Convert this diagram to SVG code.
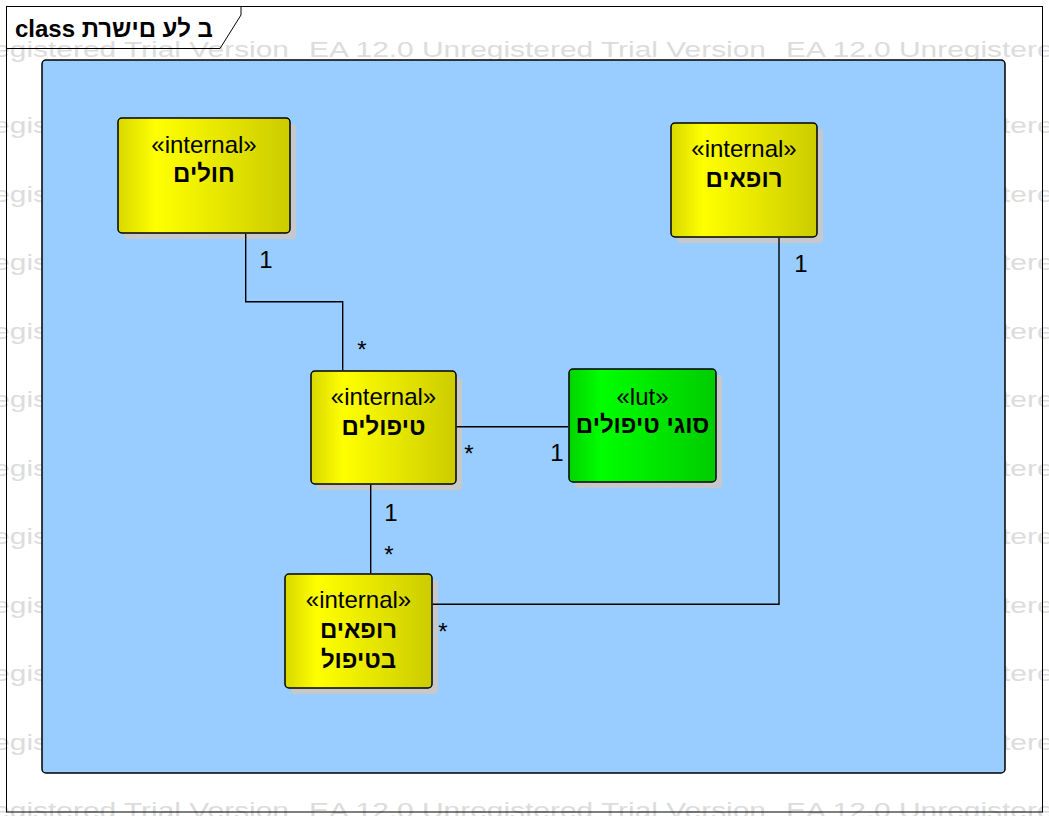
<svg xmlns="http://www.w3.org/2000/svg" xmlns:xlink="http://www.w3.org/1999/xlink" width="1049" height="816" viewBox="0 0 1049 816">
<style>
text{font-family:"Liberation Sans",Arial,"DejaVu Sans",sans-serif;fill:#000}
.wm{font-size:21.5px;fill:#dcdcdc}
.st{font-size:24px;text-anchor:middle}
.nm{font-size:24px;font-weight:bold;text-anchor:middle}
.lb{font-size:24px;text-anchor:middle}
.box{stroke:#000;stroke-width:1.5}
.shadow{fill:#c6c8cc}
.conn{fill:none;stroke:#000;stroke-width:1.4}
</style>
<defs>
<linearGradient id="gy" x1="0" y1="0" x2="1" y2="0">
<stop offset="0" stop-color="#d8d800"/>
<stop offset="0.22" stop-color="#ffff00"/>
<stop offset="1" stop-color="#cccc00"/>
</linearGradient>
<linearGradient id="gg" x1="0" y1="0" x2="1" y2="0">
<stop offset="0" stop-color="#00d400"/>
<stop offset="0.22" stop-color="#00ff00"/>
<stop offset="1" stop-color="#00cc00"/>
</linearGradient>
<text id="wm" class="wm" textLength="457" lengthAdjust="spacingAndGlyphs">EA 12.0 Unregistered Trial Version</text>
</defs>
<rect x="0" y="0" width="1049" height="816" fill="#fff"/>
<g id="watermark">
<use xlink:href="#wm" x="-168" y="57"/><use xlink:href="#wm" x="309" y="57"/><use xlink:href="#wm" x="786" y="57"/>
<use xlink:href="#wm" x="-168" y="133"/><use xlink:href="#wm" x="309" y="133"/><use xlink:href="#wm" x="786" y="133"/>
<use xlink:href="#wm" x="-168" y="201.5"/><use xlink:href="#wm" x="309" y="201.5"/><use xlink:href="#wm" x="786" y="201.5"/>
<use xlink:href="#wm" x="-168" y="270"/><use xlink:href="#wm" x="309" y="270"/><use xlink:href="#wm" x="786" y="270"/>
<use xlink:href="#wm" x="-168" y="338.5"/><use xlink:href="#wm" x="309" y="338.5"/><use xlink:href="#wm" x="786" y="338.5"/>
<use xlink:href="#wm" x="-168" y="407"/><use xlink:href="#wm" x="309" y="407"/><use xlink:href="#wm" x="786" y="407"/>
<use xlink:href="#wm" x="-168" y="475.5"/><use xlink:href="#wm" x="309" y="475.5"/><use xlink:href="#wm" x="786" y="475.5"/>
<use xlink:href="#wm" x="-168" y="544"/><use xlink:href="#wm" x="309" y="544"/><use xlink:href="#wm" x="786" y="544"/>
<use xlink:href="#wm" x="-168" y="612.5"/><use xlink:href="#wm" x="309" y="612.5"/><use xlink:href="#wm" x="786" y="612.5"/>
<use xlink:href="#wm" x="-168" y="681"/><use xlink:href="#wm" x="309" y="681"/><use xlink:href="#wm" x="786" y="681"/>
<use xlink:href="#wm" x="-168" y="749.5"/><use xlink:href="#wm" x="309" y="749.5"/><use xlink:href="#wm" x="786" y="749.5"/>
<use xlink:href="#wm" x="-168" y="818"/><use xlink:href="#wm" x="309" y="818"/><use xlink:href="#wm" x="786" y="818"/>
</g>
<g id="frame">
<rect x="6.5" y="6.5" width="1036" height="805.5" fill="none" stroke="#000" stroke-width="1"/>
<path d="M6.5 48.5 H220 L241 15 V6.5" fill="none" stroke="#000" stroke-width="1"/>
<text x="15" y="37" style="font-size:24px;font-weight:bold">class ב לע םישרת</text>
</g>
<g id="package">
<rect x="42" y="60" width="963" height="713" rx="4" fill="#99ccff" stroke="#000" stroke-width="1.5"/>
</g>
<g id="node-holim">
<rect class="shadow" x="124" y="124" width="172" height="115" rx="4"/>
<rect class="box" x="118" y="118" width="172" height="115" rx="4" fill="url(#gy)"/>
<text class="st" x="204" y="153">«internal»</text>
<text class="nm" x="204" y="182">חולים</text>
</g>
<g id="node-rofim">
<rect class="shadow" x="677" y="129" width="146" height="114" rx="4"/>
<rect class="box" x="671" y="123" width="146" height="114" rx="4" fill="url(#gy)"/>
<text class="st" x="744" y="157">«internal»</text>
<text class="nm" x="744" y="187">רופאים</text>
</g>
<g id="node-tipulim">
<rect class="shadow" x="317" y="377" width="145" height="113" rx="4"/>
<rect class="box" x="311" y="371" width="145" height="113" rx="4" fill="url(#gy)"/>
<text class="st" x="383.5" y="405">«internal»</text>
<text class="nm" x="383.5" y="435">טיפולים</text>
</g>
<g id="node-sugei-tipulim">
<rect class="shadow" x="575" y="375" width="147" height="113" rx="4"/>
<rect class="box" x="569" y="369" width="147" height="113" rx="4" fill="url(#gg)"/>
<text class="st" x="642.5" y="405">«lut»</text>
<text class="nm" x="642.5" y="433">סוגי טיפולים</text>
</g>
<g id="node-rofim-betipul">
<rect class="shadow" x="291" y="580" width="147" height="114" rx="4"/>
<rect class="box" x="285" y="574" width="147" height="114" rx="4" fill="url(#gy)"/>
<text class="st" x="358.5" y="608">«internal»</text>
<text class="nm" x="358.5" y="638">רופאים</text>
<text class="nm" x="358.5" y="668">בטיפול</text>
</g>
<g id="connectors">
<path class="conn" d="M245.7 233.8 V301.7 H342.7 V370.2"/>
<path class="conn" d="M779 237.8 V604.3 H432.8"/>
<path class="conn" d="M456.8 426.7 H568.2"/>
<path class="conn" d="M370.7 484.8 V573.2"/>
<text class="lb" x="266" y="268">1</text>
<text class="lb" x="362" y="358">*</text>
<text class="lb" x="801" y="272">1</text>
<text class="lb" x="469" y="462">*</text>
<text class="lb" x="557" y="461">1</text>
<text class="lb" x="391" y="521">1</text>
<text class="lb" x="389" y="563">*</text>
<text class="lb" x="443" y="640">*</text>
</g>
</svg>
